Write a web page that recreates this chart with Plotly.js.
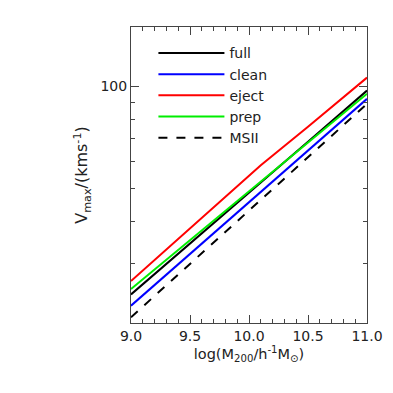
<!DOCTYPE html>
<html>
<head>
<meta charset="utf-8">
<script src="https://cdn.plot.ly/plotly-3.0.1.min.js"></script>
<style>
  html, body { margin: 0; padding: 0; background: #fff; }
  #plot { width: 393px; height: 393px; }
</style>
</head>
<body>
<div id="plot"></div>
<script>
// log halo mass positions
var logMass = [9.0, 9.5, 10.0, 10.1, 10.5, 11.0];

// Vmax (km/s) for each sample
var vFull  = [24.3, 34.3, 48.6, 52.1, 68.7, 97.3];
var vClean = [22.5, 32.0, 45.5, 48.8, 64.7, 92.0];
var vEject = [26.6, 38.1, 54.8, 58.5, 76.1, 106.3];
var vPrep  = [25.2, 35.1, 49.0, 52.4, 68.4, 95.2];
var vMSII  = [20.8, 29.9, 43.0, 46.2, 61.8, 88.9];

var yMajorTicks = [100];
var yMinorTicks = [30, 40, 50, 60, 70, 80, 90];

function line(y, name, color, dash) {
  return {
    x: logMass,
    y: y,
    name: name,
    type: "scatter",
    mode: "lines",
    line: {color: color, width: 2, dash: dash || "solid"}
  };
}

var data = [
  line(vFull, "full", "#000000"),
  line(vClean, "clean", "#0000ff"),
  line(vEject, "eject", "#ff0000"),
  line(vPrep, "prep", "#00ee00"),
  line(vMSII, "MSII", "#000000", "dash")
];

var font = {family: "DejaVu Sans, sans-serif", size: 14, color: "#222"};

var layout = {
  width: 393,
  height: 393,
  margin: {l: 131, r: 26, t: 27, b: 70},
  paper_bgcolor: "#fff",
  plot_bgcolor: "#fff",
  font: font,
  showlegend: true,
  legend: {
    x: 0.095, y: 0.965, xanchor: "left", yanchor: "top",
    bgcolor: "rgba(0,0,0,0)",
    font: {family: "DejaVu Sans, sans-serif", size: 14, color: "#222"},
    itemwidth: 66,
    tracegroupgap: 0
  },
  xaxis: {
    range: [9.0, 11.0],
    tickvals: [9.0, 9.5, 10.0, 10.5, 11.0],
    ticktext: ["9.0", "9.5", "10.0", "10.5", "11.0"],
    ticks: "inside",
    ticklen: 8,
    tickcolor: "#444",
    mirror: "ticks",
    showline: true,
    linecolor: "#444",
    linewidth: 1,
    showgrid: false,
    zeroline: false,
    minor: {dtick: 0.1, tick0: 9, ticks: "inside", ticklen: 4, tickcolor: "#444", showgrid: false},
    title: {text: "log(M<sub>200</sub>/h<sup>-1</sup>M<sub>⊙</sub>)", font: {family: font.family, size: 14.5, color: "#222"}, standoff: 4}
  },
  yaxis: {
    type: "log",
    range: [Math.log10(20), Math.log10(150)],
    tickvals: yMajorTicks,
    ticktext: ["100"],
    ticks: "inside",
    ticklen: 8,
    tickcolor: "#444",
    mirror: "ticks",
    showline: true,
    linecolor: "#444",
    linewidth: 1,
    showgrid: false,
    zeroline: false,
    minor: {tickvals: yMinorTicks, ticks: "inside", ticklen: 4, tickcolor: "#444", showgrid: false},
    title: {text: "V<sub>max</sub>/(kms<sup>-1</sup>)", font: {family: font.family, size: 16, color: "#222"}, standoff: 8}
  }
};

Plotly.newPlot("plot", data, layout, {staticPlot: true});
</script>
</body>
</html>
